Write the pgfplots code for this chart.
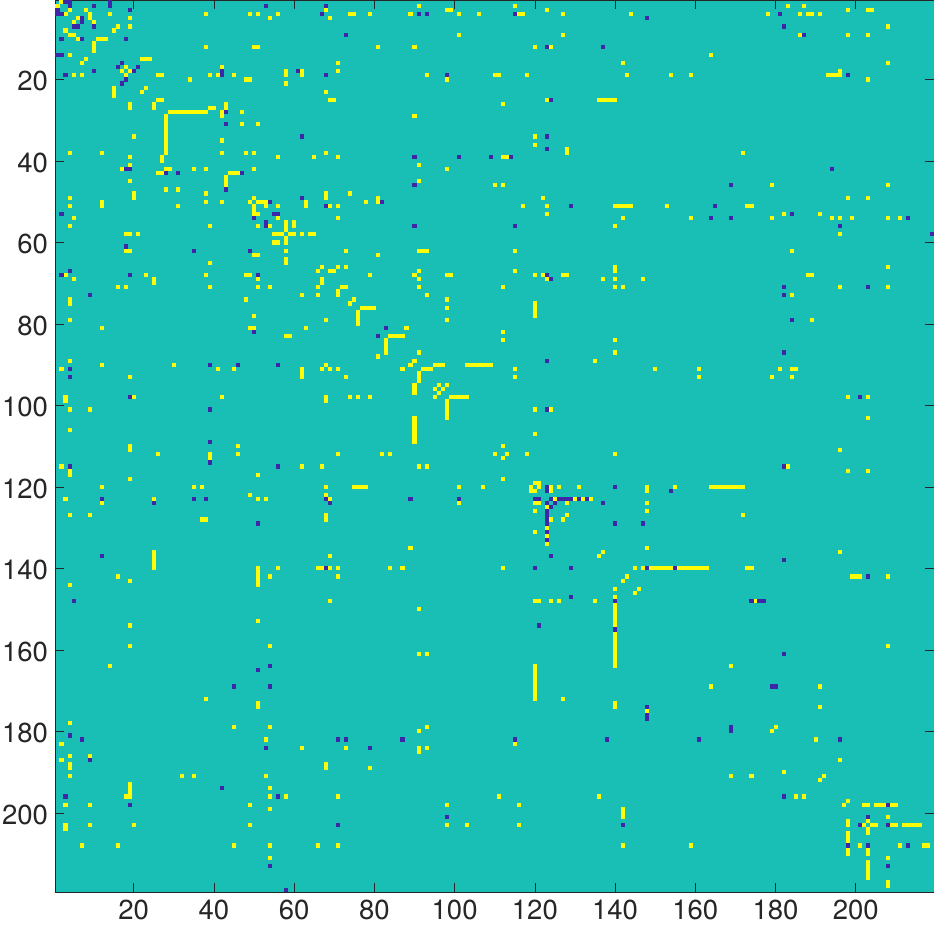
\documentclass[border=0pt]{standalone}
\usepackage{fontspec}
\setmainfont{TeX Gyre Heros}
\usepackage{pgfplots}
\pgfplotsset{compat=1.18}
\definecolor{bgteal}{RGB}{25,191,181}
\definecolor{cellyellow}{RGB}{252,253,6}
\definecolor{cellblue}{RGB}{62,38,168}
\definecolor{axisdark}{RGB}{38,38,38}
\pgfdeclareplotmark{cell}{\pgfpathrectangle{\pgfpoint{-2.03pt}{-2.07pt}}{\pgfpoint{4.06pt}{4.14pt}}\pgfusepathqfill}
\begin{document}
\begin{tikzpicture}[x=1pt,y=1pt]
\useasboundingbox (-55.5pt,-41.7pt) rectangle (878.5pt,892.3pt);
\begin{axis}[
  at={(0pt,0pt)},anchor=south west,
  scale only axis,width=878.5pt,height=892.3pt,
  xmin=0.5,xmax=219.5,ymin=0.5,ymax=219.5,y dir=reverse,
  axis background/.style={fill=bgteal},
  axis line style={axisdark,line width=0.7pt},
  tick style={axisdark,line width=0.7pt},
  tick align=inside,major tick length=9pt,
  xtick={20,40,...,200},ytick={20,40,...,200},
  /pgf/number format/assume math mode=true,
  ticklabel style={font=\fontsize{27.5}{27.5}\selectfont,text=axisdark},
  xticklabel style={yshift=-4pt},
  yticklabel style={xshift=-4pt,yshift=-2pt},
  clip=true,axis on top,
]
\addplot[only marks,mark=cell,mark options={fill=cellyellow,draw=none}] coordinates {
(2,1)(1,2)(91,2)(115,2)(183,2)(187,2)
(4,3)(8,3)(68,3)(98,3)(99,3)(123,3)(198,3)(203,3)(204,3)
(3,4)(9,4)(14,4)(38,4)(49,4)(51,4)(56,4)(74,4)(75,4)(79,4)(89,4)(101,4)(106,4)(116,4)(117,4)(127,4)(144,4)(178,4)(186,4)(188,4)(189,4)(191,4)
(6,5)(9,5)(19,5)(54,5)(69,5)
(5,6)(10,6)
(16,7)(19,7)(208,7)
(3,8)(15,8)
(4,9)(5,9)(101,9)(127,9)(186,9)(198,9)(203,9)
(6,10)(11,10)(12,10)(13,10)
(10,11)
(10,12)(38,12)(50,12)(51,12)(81,12)(90,12)(120,12)(124,12)
(10,13)
(4,14)(164,14)
(8,15)(22,15)(23,15)(24,15)
(7,16)(71,16)(142,16)(208,16)
(18,17)(42,17)
(17,18)(19,18)(58,18)(62,18)(71,18)(196,18)
(5,19)(7,19)(18,19)(26,19)(27,19)(39,19)(41,19)(45,19)(58,19)(62,19)(93,19)(110,19)(111,19)(118,19)(143,19)(154,19)(159,19)(193,19)(194,19)(195,19)(196,19)
(34,20)(48,20)(49,20)(98,20)(203,20)
(58,21)
(15,22)(23,22)
(15,23)(22,23)(68,23)
(15,24)
(26,25)(27,25)(69,25)(70,25)(123,25)(136,25)(137,25)(138,25)(139,25)(140,25)
(19,26)(25,26)(43,26)(112,26)
(19,27)(25,27)(39,27)(40,27)(43,27)
(29,28)(30,28)(31,28)(32,28)(33,28)(34,28)(35,28)(36,28)(37,28)(38,28)(42,28)(47,28)
(28,29)(42,29)(90,29)
(28,30)(28,31)(47,31)(51,31)(28,32)(28,33)(28,34)(20,34)(120,34)
(28,35)(42,35)(28,36)(120,36)(28,37)(128,37)
(28,38)(128,38)(4,38)(12,38)(42,38)(48,38)(50,38)(68,38)(172,38)
(19,39)(27,39)(56,39)(65,39)(71,39)(112,39)(113,39)
(27,40)
(19,41)(91,41)
(17,42)(28,42)(29,42)(35,42)(38,42)(50,42)(98,42)
(26,43)(27,43)(44,43)(45,43)(46,43)
(43,44)(43,45)(19,45)(91,45)(43,46)(110,46)(112,46)(179,46)(208,46)
(28,47)(31,47)
(20,48)(38,48)(68,48)(74,48)
(4,49)(20,49)(50,49)(68,49)(81,49)(122,49)(198,49)(203,49)
(12,50)(38,50)(42,50)(49,50)(51,50)(52,50)(53,50)(63,50)(78,50)(81,50)
(4,51)(12,51)(31,51)(50,51)(53,51)(56,51)(63,51)(69,51)(71,51)(117,51)(123,51)(140,51)(141,51)(142,51)(143,51)(144,51)(153,51)(173,51)(174,51)
(50,52)
(50,53)(51,53)(123,53)(182,53)(191,53)
(5,54)(56,54)(71,54)(142,54)(159,54)(179,54)(194,54)(196,54)(199,54)(208,54)(211,54)
(58,55)(60,55)
(4,56)(39,56)(51,56)(54,56)(58,56)(60,56)(140,56)
(58,57)
(18,58)(19,58)(21,58)(55,58)(56,58)(57,58)(59,58)(60,58)(62,58)(64,58)(65,58)(196,58)
(58,59)
(55,60)(56,60)(58,60)
(18,62)(19,62)(58,62)(73,62)(91,62)(92,62)(93,62)(115,62)(184,62)
(50,63)(51,63)(81,63)
(58,64)
(39,65)(58,65)
(67,66)(71,66)(73,66)(140,66)(208,66)
(66,67)(69,67)(70,67)(91,67)(115,67)(140,67)
(3,68)(23,68)(38,68)(48,68)(49,68)(79,68)(90,68)(98,68)(99,68)(120,68)(122,68)(127,68)(128,68)(188,68)(189,68)
(5,69)(25,69)(51,69)(67,69)(91,69)(123,69)(137,69)(140,69)(147,69)
(25,70)(67,70)
(16,71)(18,71)(39,71)(51,71)(54,71)(66,71)(72,71)(73,71)(91,71)(112,71)(140,71)(142,71)(196,71)(208,71)
(71,72)
(62,73)(66,73)(71,73)(93,73)(184,73)
(4,74)(48,74)(75,74)(98,74)
(4,75)(74,75)(120,75)
(77,76)(78,76)(79,76)(80,76)(98,76)(120,76)
(76,77)(120,77)
(50,78)(76,78)(120,78)
(4,79)(68,79)(76,79)(98,79)(189,79)
(76,80)
(12,81)(49,81)(50,81)(63,81)(88,81)
(112,82)
(58,83)(59,83)(84,83)(85,83)(86,83)(87,83)
(83,84)(112,84)(140,84)
(83,85)(83,86)
(83,87)(91,87)(140,87)
(81,88)
(4,89)(90,89)(135,89)
(12,90)(30,90)(68,90)(89,90)(95,90)(96,90)(97,90)(103,90)(104,90)(105,90)(106,90)(107,90)(108,90)(109,90)
(2,91)(41,91)(45,91)(62,91)(67,91)(69,91)(71,91)(87,91)(92,91)(93,91)(94,91)(115,91)(150,91)(161,91)(181,91)(184,91)(185,91)
(62,92)(91,92)
(19,93)(62,93)(73,93)(91,93)(115,93)(161,93)(179,93)(184,93)
(91,94)
(90,95)(96,95)(98,95)
(90,96)(95,96)(97,96)
(90,97)(96,97)
(3,98)(20,98)(42,98)(68,98)(74,98)(76,98)(79,98)(95,98)(99,98)(100,98)(101,98)(102,98)(103,98)(198,98)(203,98)
(3,99)(68,99)(98,99)
(98,100)
(4,101)(9,101)(98,101)(120,101)(124,101)
(98,102)
(90,103)(98,103)(203,103)
(90,104)(90,105)(90,106)(4,106)
(90,107)(120,107)
(90,108)(90,109)
(19,110)(46,110)(112,110)
(19,111)(196,111)
(26,112)(39,112)(46,112)(71,112)(82,112)(84,112)(110,112)(113,112)(118,112)(140,112)
(39,113)(112,113)
(2,115)(62,115)(67,115)(91,115)(93,115)(183,115)
(4,116)(198,116)(203,116)
(4,117)(51,117)
(19,118)(112,118)
(120,119)(121,119)
(12,120)(35,120)(37,120)(68,120)(75,120)(76,120)(77,120)(78,120)(101,120)(107,120)(119,120)(121,120)(124,120)(126,120)(131,120)(148,120)(155,120)
(164,120)(165,120)(166,120)(167,120)(168,120)(169,120)(170,120)(171,120)(172,120)
(119,121)(120,121)(124,121)(148,121)
(49,122)(68,122)
(3,123)(25,123)(51,123)(53,123)(69,123)(125,123)(130,123)(132,123)(134,123)
(12,124)(101,124)(120,124)(121,124)(128,124)(148,124)
(123,125)
(120,126)(148,126)
(4,127)(9,127)(68,127)(128,127)(172,127)
(37,128)(38,128)(68,128)(124,128)(127,128)
(123,130)(120,131)(123,132)(123,134)
(89,135)(148,135)
(25,136)(137,136)(196,136)
(25,137)(69,137)(136,137)
(25,138)(25,139)
(25,140)(51,140)(56,140)(66,140)(67,140)(69,140)(71,140)(84,140)(87,140)(112,140)(145,140)(147,140)
(149,140)(150,140)(151,140)(152,140)(153,140)(154,140)(156,140)(157,140)(158,140)(159,140)(160,140)(161,140)(162,140)(163,140)(173,140)(174,140)
(51,141)
(16,142)(51,142)(54,142)(71,142)(143,142)(199,142)(200,142)(201,142)(208,142)
(19,143)(51,143)(142,143)
(4,144)(51,144)
(140,145)(146,145)
(145,146)
(140,147)
(69,148)(120,148)(121,148)(124,148)(126,148)(135,148)(175,148)
(140,149)(140,150)(91,150)(140,151)(140,152)(140,153)(51,153)(140,154)(19,154)
(140,156)(140,157)(140,158)(140,159)(19,159)(54,159)(208,159)(140,160)(140,161)(91,161)(93,161)(140,162)(140,163)(140,164)
(14,164)(120,164)(169,164)
(120,165)(120,166)(120,167)(120,168)(120,169)(164,169)(191,169)(120,170)(120,171)(120,172)
(38,172)(127,172)
(51,173)(140,173)
(51,174)(140,174)(191,174)
(148,175)
(4,178)
(45,179)(54,179)(93,179)(180,179)
(91,180)(179,180)
(53,182)(190,182)
(2,183)(115,183)
(62,184)(73,184)(91,184)(93,184)
(91,185)
(4,186)(9,186)
(2,187)(196,187)
(4,188)(68,188)(4,189)(68,189)(79,189)
(182,190)
(4,191)(32,191)(35,191)(53,191)(169,191)(174,191)(192,191)
(191,192)
(19,193)(19,194)(54,194)(19,195)
(18,196)(19,196)(54,196)(58,196)(71,196)(111,196)(136,196)(185,196)(187,196)
(198,197)
(3,198)(9,198)(49,198)(98,198)(116,198)(197,198)(202,198)(203,198)(205,198)(206,198)(207,198)(209,198)(210,198)
(54,199)(142,199)
(142,200)
(142,201)(208,201)
(198,202)(203,202)
(3,203)(9,203)(20,203)(49,203)(98,203)(103,203)(116,203)(198,203)(202,203)(204,203)(205,203)(209,203)(210,203)(212,203)(213,203)(214,203)(215,203)(216,203)
(3,204)(203,204)
(203,205)(198,205)
(198,206)(198,207)
(7,208)(16,208)(45,208)(54,208)(66,208)(71,208)(142,208)(159,208)(201,208)(211,208)(217,208)(218,208)
(198,209)(203,209)(198,210)(203,210)
(54,211)(208,211)
(203,212)(203,213)(203,214)(203,215)(203,216)
(208,217)(208,218)
};
\addplot[only marks,mark=cell,mark options={fill=cellblue,draw=none}] coordinates {
(3,1)(4,1)(14,1)
(4,2)(10,2)(14,2)(53,2)(68,2)
(1,3)(19,3)
(1,4)(2,4)(67,4)(91,4)(93,4)(115,4)(181,4)
(7,5)(148,5)
(7,6)
(5,7)(6,7)(10,7)(182,7)
(73,9)(187,9)
(2,10)(7,10)(18,10)
(123,12)(137,12)
(1,14)(2,14)
(17,16)
(16,17)(21,17)
(10,18)(20,18)(42,18)(61,18)
(3,19)(42,19)(68,19)(98,19)(198,19)
(18,20)
(17,21)
(124,25)
(43,28)
(43,31)
(62,34)(123,34)
(123,37)
(90,39)(101,39)(109,39)(114,39)
(18,42)(19,42)(194,42)
(28,43)(31,43)(47,43)
(90,46)(169,46)
(43,47)
(62,49)
(54,50)(82,50)
(68,51)(129,51)(165,51)
(2,53)(55,53)(56,53)(184,53)
(50,54)(164,54)(169,54)(213,54)
(53,55)
(53,56)(90,56)(115,56)(196,56)
(219,58)
(18,61)
(35,62)(49,62)
(4,67)
(2,68)(19,68)(51,68)(123,68)
(124,69)
(182,71)(203,71)
(9,73)(182,73)
(184,79)
(83,81)
(50,82)
(81,83)
(182,87)
(123,89)
(39,90)(46,90)(56,90)
(4,91)
(4,93)
(19,98)(201,98)
(39,101)(123,101)
(39,109)
(39,114)
(4,115)(56,115)(182,115)
(123,120)(140,120)
(123,121)(154,121)
(12,123)(35,123)(38,123)(68,123)(89,123)(101,123)(120,123)(121,123)(124,123)(126,123)(127,123)(128,123)(129,123)(131,123)(133,123)
(25,124)(69,124)(123,124)(125,124)(137,124)
(124,125)
(123,126)(123,127)(123,128)
(51,129)(123,129)(140,129)(147,129)
(123,131)(123,133)
(12,137)(124,137)
(182,138)
(68,140)(120,140)(129,140)(148,140)(155,140)
(203,142)
(129,147)
(5,148)(140,148)(174,148)(176,148)(177,148)
(121,154)
(140,155)
(182,161)
(54,164)
(51,165)
(45,169)(54,169)(179,169)(180,169)
(148,174)(148,176)(148,177)
(169,179)(169,180)
(4,181)
(7,182)(71,182)(73,182)(87,182)(115,182)(138,182)(161,182)(196,182)
(53,184)(79,184)
(9,187)
(42,194)
(3,196)(56,196)(182,196)
(19,198)(208,198)
(98,201)(203,201)
(71,203)(142,203)(201,203)(208,203)
(198,208)(203,208)(213,208)
(54,213)(208,213)
(58,219)
};
\end{axis}
\end{tikzpicture}
\end{document}
